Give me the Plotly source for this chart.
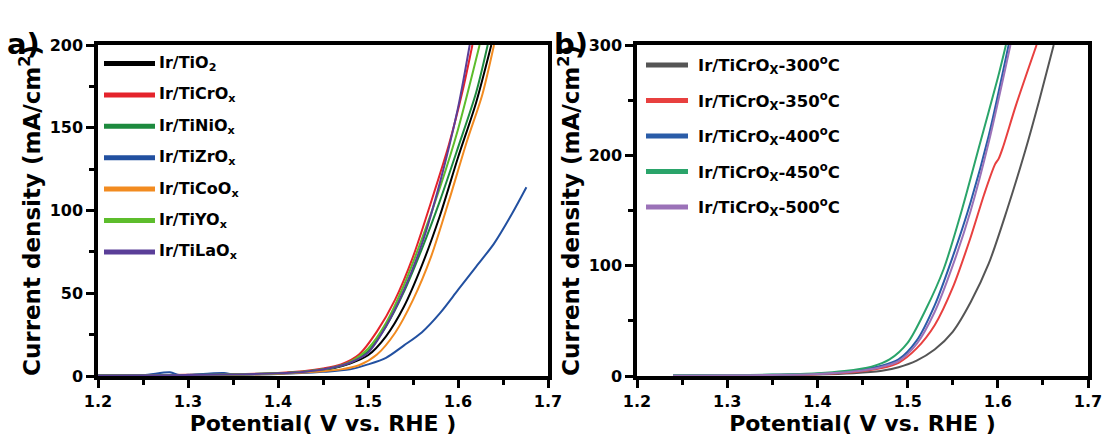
import plotly.graph_objects as go

# ---------------- Panel a data ----------------
a_names = ["Ir/TiO<sub>2</sub>", "Ir/TiCrO<sub>x</sub>", "Ir/TiNiO<sub>x</sub>", "Ir/TiZrO<sub>x</sub>",
           "Ir/TiCoO<sub>x</sub>", "Ir/TiYO<sub>x</sub>", "Ir/TiLaO<sub>x</sub>"]
a_colors = ["#000000", "#e4232b", "#1d8a3e", "#2250a0", "#f28b20", "#5dbd2c", "#5a3e98"]

tio2_v = [1.20, 1.25, 1.30, 1.35, 1.40, 1.43, 1.46, 1.48, 1.50, 1.52, 1.54, 1.56, 1.58, 1.60, 1.62, 1.637]
tio2_j = [0.3, 0.4, 0.6, 0.9, 1.5, 2.5, 4.5, 7.5, 12.5, 24, 42, 67, 97, 132, 165, 200]

ticr_v = [1.20, 1.25, 1.30, 1.35, 1.40, 1.43, 1.45, 1.47, 1.49, 1.51, 1.53, 1.55, 1.57, 1.59, 1.605, 1.616]
ticr_j = [0.4, 0.5, 0.7, 1.0, 1.8, 3.0, 4.5, 7.0, 13, 27, 46, 72, 105, 140, 172, 200]

tini_v = [1.20, 1.25, 1.30, 1.35, 1.40, 1.43, 1.46, 1.48, 1.50, 1.52, 1.54, 1.56, 1.58, 1.60, 1.62, 1.633]
tini_j = [0.3, 0.4, 0.6, 0.9, 1.6, 2.6, 4.8, 8, 15, 30, 51, 77, 106, 138, 171, 200]

tizr_v = [1.20, 1.25, 1.28, 1.29, 1.30, 1.34, 1.35, 1.40, 1.45, 1.48, 1.50, 1.52, 1.54, 1.56, 1.58, 1.60, 1.62, 1.64, 1.66, 1.676]
tizr_j = [0.4, 0.5, 2.2, 0.6, 0.7, 1.8, 0.9, 1.2, 2.5, 4.0, 7.0, 11, 18.5, 26.5, 38, 52, 66, 80, 98, 114]

tico_v = [1.20, 1.25, 1.30, 1.35, 1.40, 1.44, 1.47, 1.49, 1.51, 1.53, 1.55, 1.57, 1.59, 1.61, 1.627, 1.640]
tico_j = [0.2, 0.3, 0.5, 0.8, 1.3, 2.5, 4.0, 6.5, 13, 26, 46, 72, 106, 142, 170, 200]

tiy_v = [1.20, 1.25, 1.30, 1.35, 1.40, 1.43, 1.46, 1.48, 1.50, 1.52, 1.54, 1.56, 1.58, 1.60, 1.624]
tiy_j = [0.3, 0.4, 0.6, 0.9, 1.6, 2.7, 5.0, 8.5, 16.5, 32, 55, 83, 114, 149, 200]

tila_v = [1.20, 1.25, 1.30, 1.35, 1.40, 1.43, 1.46, 1.48, 1.50, 1.52, 1.54, 1.56, 1.58, 1.60, 1.613]
tila_j = [0.3, 0.4, 0.6, 0.9, 1.6, 2.6, 5.0, 8.0, 14, 30, 52, 80, 117, 162, 200]

a_v = [tio2_v, ticr_v, tini_v, tizr_v, tico_v, tiy_v, tila_v]
a_j = [tio2_j, ticr_j, tini_j, tizr_j, tico_j, tiy_j, tila_j]

# ---------------- Panel b data ----------------
b_names = ["Ir/TiCrO<sub>X</sub>-300<sup>o</sup>C", "Ir/TiCrO<sub>X</sub>-350<sup>o</sup>C",
           "Ir/TiCrO<sub>X</sub>-400<sup>o</sup>C", "Ir/TiCrO<sub>X</sub>-450<sup>o</sup>C",
           "Ir/TiCrO<sub>X</sub>-500<sup>o</sup>C"]
b_colors = ["#555555", "#e8403f", "#2a5ca8", "#2aa46a", "#9b72b8"]

t300_v = [1.24, 1.30, 1.35, 1.40, 1.44, 1.47, 1.49, 1.51, 1.53, 1.55, 1.57, 1.59, 1.61, 1.63, 1.646, 1.662]
t300_j = [0.3, 0.5, 0.8, 1.3, 2.5, 4.5, 8, 14, 24, 40, 67, 102, 150, 203, 250, 300]

t350_v = [1.24, 1.30, 1.35, 1.40, 1.44, 1.47, 1.49, 1.51, 1.53, 1.55, 1.57, 1.585, 1.597, 1.601, 1.606, 1.62, 1.643]
t350_j = [0.3, 0.5, 0.9, 1.6, 3.5, 7, 12, 25, 46, 80, 126, 165, 192, 197, 208, 245, 300]

t400_v = [1.24, 1.30, 1.35, 1.40, 1.44, 1.47, 1.49, 1.51, 1.53, 1.55, 1.57, 1.59, 1.612]
t400_j = [0.4, 0.7, 1.1, 2.0, 4.5, 9, 15, 32, 64, 108, 158, 218, 300]

t450_v = [1.24, 1.30, 1.35, 1.40, 1.43, 1.46, 1.48, 1.50, 1.52, 1.54, 1.56, 1.58, 1.60, 1.609]
t450_j = [0.5, 0.8, 1.3, 2.5, 4.5, 8.5, 15, 30, 60, 97, 150, 210, 270, 300]

t500_v = [1.24, 1.30, 1.35, 1.40, 1.44, 1.47, 1.49, 1.51, 1.53, 1.55, 1.57, 1.59, 1.614]
t500_j = [0.3, 0.6, 1.0, 1.8, 4.0, 8, 13.5, 29, 58, 100, 150, 212, 300]

b_v = [t300_v, t350_v, t400_v, t450_v, t500_v]
b_j = [t300_j, t350_j, t400_j, t450_j, t500_j]

x_ticks = [1.2, 1.3, 1.4, 1.5, 1.6, 1.7]
a_yticks = [0, 50, 100, 150, 200]
b_yticks = [0, 100, 200, 300]

FONT = "DejaVu Sans"
W, H = 1105, 439

fig = go.Figure()
for v, j, c in zip(a_v, a_j, a_colors):
    fig.add_trace(go.Scatter(x=v, y=j, mode="lines", line=dict(color=c, width=2, shape="spline", smoothing=0.8),
                             xaxis="x", yaxis="y", showlegend=False, hoverinfo="skip"))
for v, j, c in zip(b_v, b_j, b_colors):
    fig.add_trace(go.Scatter(x=v, y=j, mode="lines", line=dict(color=c, width=2, shape="spline", smoothing=0.8),
                             xaxis="x2", yaxis="y2", showlegend=False, hoverinfo="skip"))

def px_x(p):
    return p / W

def px_y(p):
    return 1 - p / H

axis_common = dict(
    showline=True, linewidth=3.5, linecolor="black", mirror=True,
    ticks="outside", ticklen=8, tickwidth=3, tickcolor="black",
    showgrid=False, zeroline=False, automargin=False,
    tickfont=dict(family=FONT, size=16, color="black", weight="bold"),
)
ydom = [px_y(376), px_y(45)]
xtitle_font = dict(family=FONT, size=22, color="black", weight="bold")
ytitle_font = dict(family=FONT, size=23, color="black", weight="bold")

fig.update_layout(
    width=W, height=H,
    margin=dict(l=0, r=0, t=0, b=0),
    paper_bgcolor="white", plot_bgcolor="white",
    font=dict(family=FONT, color="black"),
    xaxis=dict(domain=[px_x(98), px_x(548)], range=[1.2, 1.7], tickvals=x_ticks,
               ticktext=[f"{t:.1f}" for t in x_ticks],
               minor=dict(dtick=0.05, tick0=1.2, ticks="outside", ticklen=5, tickwidth=3, tickcolor="black"),
               title=dict(text="Potential( V vs. RHE )", standoff=4, font=xtitle_font),
               anchor="y", **axis_common),
    yaxis=dict(domain=ydom, range=[0, 200], tickvals=a_yticks,
               minor=dict(dtick=25, tick0=0, ticks="outside", ticklen=5, tickwidth=3, tickcolor="black"),
               title=dict(text="Current density (mA/cm<sup>2</sup>)", standoff=4, font=ytitle_font),
               anchor="x", **axis_common),
    xaxis2=dict(domain=[px_x(637), px_x(1088)], range=[1.2, 1.7], tickvals=x_ticks,
                ticktext=[f"{t:.1f}" for t in x_ticks],
                minor=dict(dtick=0.05, tick0=1.2, ticks="outside", ticklen=5, tickwidth=3, tickcolor="black"),
                title=dict(text="Potential( V vs. RHE )", standoff=4, font=xtitle_font),
                anchor="y2", **axis_common),
    yaxis2=dict(domain=ydom, range=[0, 300], tickvals=b_yticks,
                minor=dict(dtick=50, tick0=0, ticks="outside", ticklen=5, tickwidth=3, tickcolor="black"),
                title=dict(text="Current density (mA/cm<sup>2</sup>)", standoff=4, font=ytitle_font),
                anchor="x2", **axis_common),
)

shapes = []
annotations = []
# Legend a
a_row0, a_step = 63.5, 31.4
for i, (name, c) in enumerate(zip(a_names, a_colors)):
    yy = (376 - (a_row0 + i * a_step)) / 331
    shapes.append(dict(type="line", xref="x domain", yref="y domain",
                       x0=(104 - 98) / 450, x1=(155 - 98) / 450, y0=yy, y1=yy,
                       line=dict(color=c, width=5)))
    annotations.append(dict(xref="x domain", yref="y domain", x=(157 - 98) / 450, y=yy,
                            xanchor="left", yanchor="middle", showarrow=False, text=name,
                            font=dict(family=FONT, size=16, color="black", weight="bold")))
# Legend b
b_row0, b_step = 65, 35.4
for i, (name, c) in enumerate(zip(b_names, b_colors)):
    yy = (375 - (b_row0 + i * b_step)) / 330
    shapes.append(dict(type="line", xref="x2 domain", yref="y2 domain",
                       x0=(646 - 637) / 451, x1=(688 - 637) / 451, y0=yy, y1=yy,
                       line=dict(color=c, width=5)))
    annotations.append(dict(xref="x2 domain", yref="y2 domain", x=(696 - 637) / 451, y=yy,
                            xanchor="left", yanchor="middle", showarrow=False, text=name,
                            font=dict(family=FONT, size=16.5, color="black", weight="bold")))
# Panel labels
annotations.append(dict(xref="paper", yref="paper", x=px_x(5), y=px_y(44), xanchor="left", yanchor="middle",
                        showarrow=False, text="a)", font=dict(family=FONT, size=29, color="black", weight="bold")))
annotations.append(dict(xref="paper", yref="paper", x=px_x(552), y=px_y(44), xanchor="left", yanchor="middle",
                        showarrow=False, text="b)", font=dict(family=FONT, size=29, color="black", weight="bold")))

fig.update_layout(shapes=shapes, annotations=annotations)
fig.write_html("out.html", config={"displayModeBar": False},
               post_script="document.body.style.margin='0';document.body.style.overflow='hidden';")
